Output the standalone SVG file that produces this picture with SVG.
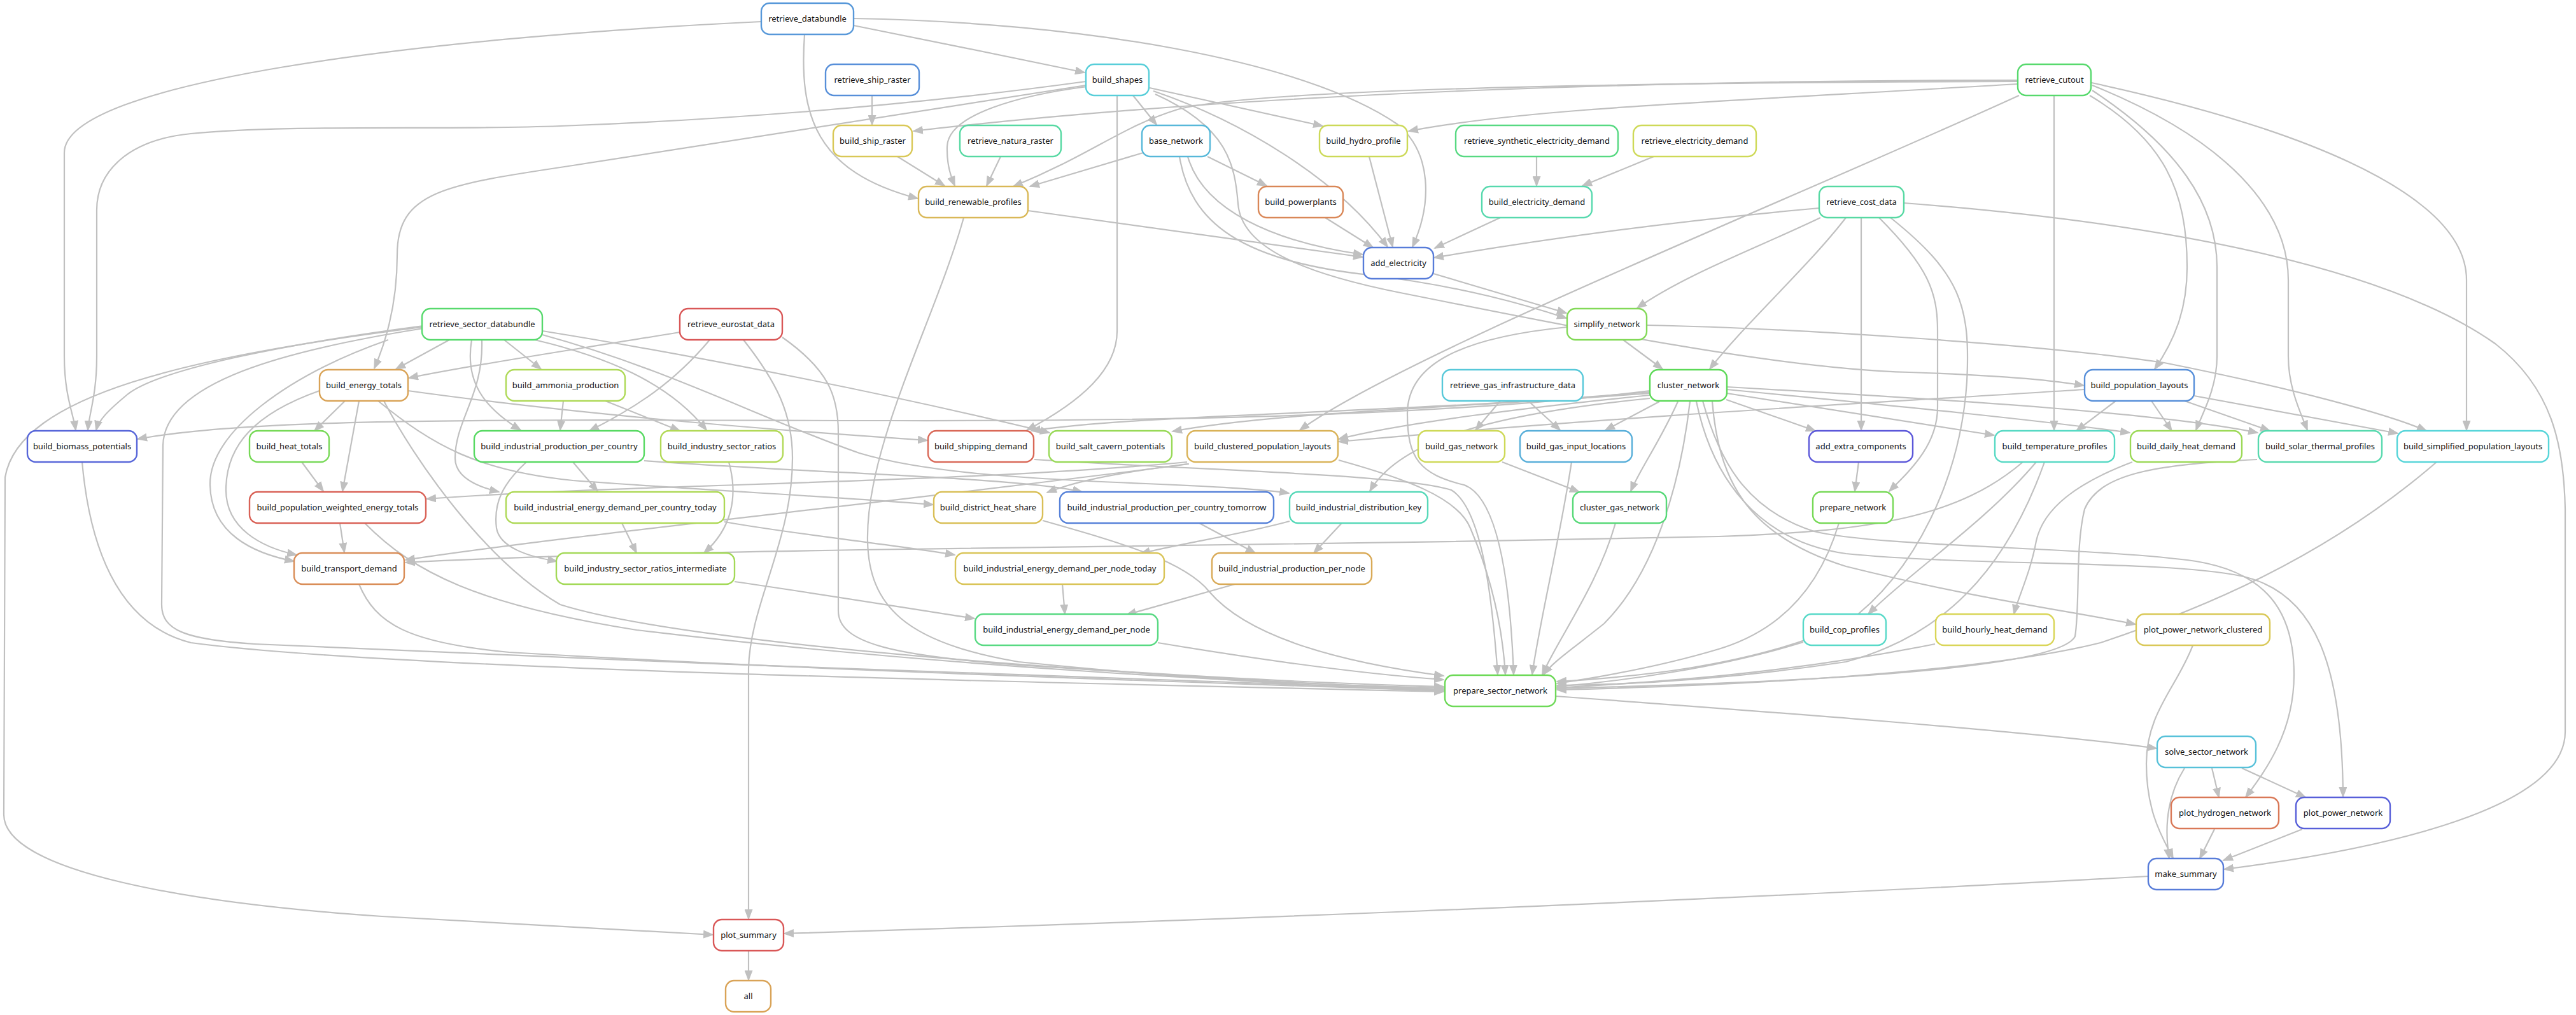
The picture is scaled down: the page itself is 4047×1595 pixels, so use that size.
<svg xmlns="http://www.w3.org/2000/svg" width="4047" height="1595" viewBox="0 0 4047 1595">
<defs>
<marker id="arr" markerUnits="userSpaceOnUse" markerWidth="17" markerHeight="13" refX="15" refY="6.5" orient="auto" viewBox="0 0 17 13"><path d="M0,0 L17,6.5 L0,13 z" fill="#c0c0c0"/></marker>
</defs>
<style>
#edges path{fill:none;stroke:#c0c0c0;stroke-width:2.2;marker-end:url(#arr)}
.node rect{fill:#fff;stroke-width:2.4}
.node text{font-family:'Noto Sans','Open Sans','DejaVu Sans',sans-serif;font-size:13px;text-anchor:middle;fill:#111}
</style>
<rect width="4047" height="1595" fill="#fff"/>
<g id="edges" class="edges">
<path d="M1341,40 C1450,62 1600,92 1704,114"/>
<path d="M1341,29 C1700,35 2050,95 2195,195 C2250,240 2250,320 2219,388"/>
<path d="M1196,34 C650,60 101,130 101,240 L101,560 C101,620 115,650 119,676"/>
<path d="M1264,54 C1255,180 1280,270 1442,312"/>
<path d="M1706,128 C1400,170 1100,190 880,198 C700,205 450,195 300,210 C200,220 152,270 152,330 L152,560 C152,620 140,650 138,676"/>
<path d="M1706,134 L900,260 C700,290 624,300 624,400 C624,480 605,540 588,579"/>
<path d="M1780,150 L1817,196"/>
<path d="M1708,136 C1600,150 1490,180 1488,230 C1487,260 1495,280 1500,292"/>
<path d="M1806,138 L2078,198"/>
<path d="M1812,143 C1950,190 2100,280 2180,388"/>
<path d="M1815,148 C1930,200 1940,260 1945,320 C1950,390 2050,430 2200,460 C2500,520 2800,580 3000,585 C3150,590 3230,598 3274,606"/>
<path d="M1755,150 L1755,520 C1755,580 1700,630 1613,676"/>
<path d="M1370,150 L1370,196"/>
<path d="M3170,126 C2700,126 2000,140 1435,206"/>
<path d="M3170,128 C2400,130 1950,145 1850,172 C1760,200 1720,240 1592,293"/>
<path d="M3170,132 C2700,160 2400,170 2213,206"/>
<path d="M1410,246 L1484,292"/>
<path d="M1572,246 L1550,292"/>
<path d="M1796,240 L1618,293"/>
<path d="M1897,246 L1990,292"/>
<path d="M1866,246 C1890,330 2000,380 2141,400"/>
<path d="M1853,246 C1870,350 1950,410 2150,432 C2300,450 2400,480 2461,500"/>
<path d="M2151,246 L2188,388"/>
<path d="M2082,342 L2157,389"/>
<path d="M2357,342 L2254,390"/>
<path d="M1615,331 L2141,404"/>
<path d="M2858,327 C2600,350 2400,380 2253,405"/>
<path d="M2414,246 L2414,292"/>
<path d="M2598,246 L2486,292"/>
<path d="M2252,430 L2461,492"/>
<path d="M2860,342 C2760,390 2650,430 2572,484"/>
<path d="M2550,534 L2612,580"/>
<path d="M2900,342 C2840,420 2740,510 2686,580"/>
<path d="M2587,511 C2800,515 3200,540 3400,570 C3600,610 3750,650 3812,677"/>
<path d="M2462,514 C2300,530 2211,570 2211,650 C2211,720 2230,745 2300,762 C2350,780 2372,900 2378,1060"/>
<path d="M2592,614 C2300,650 1900,662 1400,661 C800,660 400,655 216,690"/>
<path d="M2592,616 C2200,650 1800,650 1620,677"/>
<path d="M2592,618 C2300,640 2000,648 1842,678"/>
<path d="M2592,621 C2400,640 2200,665 2103,690"/>
<path d="M3275,612 C3000,630 2600,650 2103,694"/>
<path d="M3172,150 C2800,320 2200,560 2042,676"/>
<path d="M2592,626 C2350,650 2200,690 2152,772"/>
<path d="M2607,631 L2522,676"/>
<path d="M2636,631 C2610,690 2575,740 2562,772"/>
<path d="M2655,631 C2640,760 2600,900 2520,980 C2470,1020 2440,1040 2425,1060"/>
<path d="M2675,630 C2700,720 2740,800 2850,835 C2950,860 3300,860 3450,882 C3560,900 3604,960 3604,1060 C3604,1150 3560,1210 3528,1253"/>
<path d="M2665,631 C2690,750 2760,850 2900,870 C3100,890 3400,880 3520,905 C3640,930 3680,1050 3681,1252"/>
<path d="M2690,631 C2700,750 2740,840 2900,890 C3100,940 3250,960 3355,981"/>
<path d="M2712,628 L2852,677"/>
<path d="M2713,618 L3133,684"/>
<path d="M2713,612 C3000,640 3200,660 3346,680"/>
<path d="M2713,608 C3100,630 3400,650 3547,680"/>
<path d="M3324,630 L3262,677"/>
<path d="M3380,630 L3412,677"/>
<path d="M3432,630 L3566,677"/>
<path d="M3447,622 L3767,681"/>
<path d="M3227,150 L3227,676"/>
<path d="M3287,142 C3420,230 3483,320 3483,420 L3483,560 C3483,610 3460,650 3450,676"/>
<path d="M3287,134 C3500,220 3595,330 3595,440 L3595,560 C3595,610 3615,650 3625,676"/>
<path d="M3286,130 C3700,220 3875,330 3875,440 L3875,676"/>
<path d="M3283,150 C3400,220 3436,300 3436,420 C3436,480 3420,530 3385,580"/>
<path d="M2920,726 L2914,772"/>
<path d="M2924,342 L2924,676"/>
<path d="M2952,342 C3030,420 3044,460 3044,520 L3044,640 C3044,700 3000,740 2968,772"/>
<path d="M2970,342 C3080,430 3096,480 3090,600 C3080,750 3010,900 2900,980 C2750,1050 2550,1065 2446,1071"/>
<path d="M2889,822 C2860,920 2800,990 2700,1020 C2600,1050 2500,1066 2446,1074"/>
<path d="M3199,726 C3120,820 3000,900 2935,965"/>
<path d="M3178,726 C3080,810 2950,835 2700,843 C2200,855 1500,860 1350,864 C1000,870 800,875 637,884"/>
<path d="M3212,726 C3150,900 3050,1000 2900,1040 C2700,1070 2550,1076 2446,1077"/>
<path d="M3350,726 C3260,760 3210,800 3199,850 C3190,900 3170,940 3164,965"/>
<path d="M3546,722 C3400,730 3300,740 3275,800 C3260,860 3268,950 3260,1000 C3230,1060 2700,1075 2446,1082"/>
<path d="M3828,726 C3650,880 3450,960 3300,1010 C3100,1060 2700,1078 2446,1084"/>
<path d="M2833,1009 C2700,1050 2550,1070 2446,1079"/>
<path d="M3040,1012 C2800,1060 2600,1072 2446,1081"/>
<path d="M3445,1014 C3420,1080 3372,1120 3372,1200 C3372,1280 3400,1320 3414,1349"/>
<path d="M3432,1207 C3405,1250 3400,1300 3408,1349"/>
<path d="M3475,1207 L3486,1253"/>
<path d="M3522,1207 L3622,1253"/>
<path d="M3479,1303 L3456,1349"/>
<path d="M3617,1303 L3493,1352"/>
<path d="M2444,1094 C2800,1120 3200,1150 3388,1176"/>
<path d="M3375,1377 C2600,1420 1800,1450 1232,1467"/>
<path d="M1176,1494 L1176,1540"/>
<path d="M1168,534 C1220,600 1245,650 1245,720 C1245,850 1178,950 1176,1050 L1176,1444"/>
<path d="M663,514 C300,560 30,620 8,750 L6,1280 C6,1370 300,1420 600,1440 C850,1455 1000,1462 1120,1469"/>
<path d="M665,512 C450,540 250,580 200,620 C170,645 155,660 151,676"/>
<path d="M665,516 C450,550 258,600 256,700 L254,950 C254,990 290,1005 400,1012 C1000,1040 1800,1070 2268,1084"/>
<path d="M706,534 L622,580"/>
<path d="M792,534 L850,580"/>
<path d="M741,534 C730,600 760,640 818,676"/>
<path d="M757,534 C760,620 715,660 715,720 C715,750 750,765 784,773"/>
<path d="M840,534 C950,560 1050,600 1110,676"/>
<path d="M852,526 C1050,580 1200,660 1350,712 C1450,742 1600,752 1800,760 C1900,764 1980,768 2025,775"/>
<path d="M852,520 C1100,560 1400,620 1649,680"/>
<path d="M610,534 C450,590 330,680 330,760 C330,840 400,870 462,882"/>
<path d="M542,630 L494,677"/>
<path d="M564,630 L538,772"/>
<path d="M474,726 L508,772"/>
<path d="M534,822 L541,868"/>
<path d="M1865,726 C1500,760 1000,760 670,784"/>
<path d="M1868,729 C1400,790 900,840 637,880"/>
<path d="M1866,729 C1780,740 1700,752 1645,774"/>
<path d="M573,822 C650,900 750,950 1000,990 C1500,1050 2000,1075 2268,1081"/>
<path d="M564,918 C590,980 640,1010 800,1025 C1400,1060 2000,1075 2268,1086"/>
<path d="M603,630 C650,720 760,880 880,950 C1100,1020 1900,1070 2268,1079"/>
<path d="M641,614 C900,650 1200,675 1457,692"/>
<path d="M594,630 C680,700 750,740 900,755 C1100,770 1300,780 1466,793"/>
<path d="M502,614 C400,650 355,700 355,770 C355,830 410,860 466,872"/>
<path d="M885,630 L880,676"/>
<path d="M951,630 L1068,677"/>
<path d="M1068,522 C900,550 760,570 642,594"/>
<path d="M1115,534 C1060,600 1000,640 926,677"/>
<path d="M1229,530 C1300,580 1317,620 1317,680 L1317,960 C1317,1010 1400,1030 1600,1045 C1900,1065 2100,1078 2268,1083"/>
<path d="M900,726 L939,772"/>
<path d="M827,726 C790,760 775,790 780,830 C785,860 830,875 875,882"/>
<path d="M1012,724 C1300,745 1600,750 1700,773"/>
<path d="M1884,822 L1972,869"/>
<path d="M2108,822 L2064,869"/>
<path d="M2026,819 C1950,840 1850,855 1792,870"/>
<path d="M1138,820 C1250,840 1400,855 1500,872"/>
<path d="M977,822 L1000,869"/>
<path d="M1145,726 C1160,780 1150,830 1106,869"/>
<path d="M1154,914 C1300,935 1420,955 1531,972"/>
<path d="M1669,918 L1673,965"/>
<path d="M1940,918 L1770,966"/>
<path d="M1819,1010 C2000,1040 2150,1060 2268,1068"/>
<path d="M1638,818 C1750,850 1860,880 1900,930 C1960,1000 2100,1040 2268,1062"/>
<path d="M1625,722 C1900,740 2200,745 2280,770 C2330,800 2345,950 2353,1060"/>
<path d="M2103,723 C2200,750 2290,780 2310,830 C2340,900 2360,980 2365,1060"/>
<path d="M2538,822 C2510,920 2450,1000 2423,1060"/>
<path d="M2469,726 C2450,850 2420,970 2407,1060"/>
<path d="M2360,726 L2481,773"/>
<path d="M2357,630 L2318,676"/>
<path d="M2401,630 L2451,676"/>
<path d="M129,726 C140,850 180,980 300,1010 C600,1050 1500,1070 2268,1087"/>
<path d="M1514,342 C1470,500 1360,700 1363,850 C1365,950 1420,1010 1600,1040 C1900,1070 2100,1080 2268,1085"/>
<path d="M2991,319 C3400,350 3750,420 3920,540 C4010,610 4028,700 4030,800 L4030,1150 C4030,1280 3700,1340 3494,1366"/>
</g>
<g id="n-retrieve_databundle" class="node"><rect x="1196" y="5" width="145" height="49" rx="13" stroke="#5798D9"/><text x="1268.5" y="34">retrieve_databundle</text></g>
<g id="n-retrieve_ship_raster" class="node"><rect x="1297" y="101" width="147" height="49" rx="13" stroke="#578FD9"/><text x="1370.5" y="130">retrieve_ship_raster</text></g>
<g id="n-build_shapes" class="node"><rect x="1706" y="101" width="99" height="49" rx="13" stroke="#57CED9"/><text x="1755.5" y="130">build_shapes</text></g>
<g id="n-retrieve_cutout" class="node"><rect x="3170" y="101" width="115" height="49" rx="13" stroke="#57D96D"/><text x="3227.5" y="130">retrieve_cutout</text></g>
<g id="n-build_ship_raster" class="node"><rect x="1309" y="197" width="124" height="49" rx="13" stroke="#D9C857"/><text x="1371" y="226">build_ship_raster</text></g>
<g id="n-retrieve_natura_raster" class="node"><rect x="1508" y="197" width="159" height="49" rx="13" stroke="#57D9A3"/><text x="1587.5" y="226">retrieve_natura_raster</text></g>
<g id="n-base_network" class="node"><rect x="1794" y="197" width="107" height="49" rx="13" stroke="#57B8D9"/><text x="1847.5" y="226">base_network</text></g>
<g id="n-build_hydro_profile" class="node"><rect x="2073" y="197" width="138" height="49" rx="13" stroke="#CCD957"/><text x="2142" y="226">build_hydro_profile</text></g>
<g id="n-retrieve_synthetic_electricity_demand" class="node"><rect x="2287" y="197" width="255" height="49" rx="13" stroke="#57D982"/><text x="2414.5" y="226">retrieve_synthetic_electricity_demand</text></g>
<g id="n-retrieve_electricity_demand" class="node"><rect x="2566" y="197" width="193" height="49" rx="13" stroke="#CED957"/><text x="2662.5" y="226">retrieve_electricity_demand</text></g>
<g id="n-build_renewable_profiles" class="node"><rect x="1443" y="293" width="172" height="49" rx="13" stroke="#D9B857"/><text x="1529" y="322">build_renewable_profiles</text></g>
<g id="n-build_powerplants" class="node"><rect x="1977" y="293" width="133" height="49" rx="13" stroke="#D98757"/><text x="2043.5" y="322">build_powerplants</text></g>
<g id="n-build_electricity_demand" class="node"><rect x="2328" y="293" width="173" height="49" rx="13" stroke="#57D9AE"/><text x="2414.5" y="322">build_electricity_demand</text></g>
<g id="n-retrieve_cost_data" class="node"><rect x="2858" y="293" width="133" height="49" rx="13" stroke="#57D9A3"/><text x="2924.5" y="322">retrieve_cost_data</text></g>
<g id="n-add_electricity" class="node"><rect x="2142" y="389" width="110" height="49" rx="13" stroke="#577CD9"/><text x="2197" y="418">add_electricity</text></g>
<g id="n-retrieve_sector_databundle" class="node"><rect x="663" y="485" width="189" height="49" rx="13" stroke="#57D96D"/><text x="757.5" y="514">retrieve_sector_databundle</text></g>
<g id="n-retrieve_eurostat_data" class="node"><rect x="1068" y="485" width="161" height="49" rx="13" stroke="#D95757"/><text x="1148.5" y="514">retrieve_eurostat_data</text></g>
<g id="n-simplify_network" class="node"><rect x="2462" y="485" width="125" height="49" rx="13" stroke="#82D957"/><text x="2524.5" y="514">simplify_network</text></g>
<g id="n-build_energy_totals" class="node"><rect x="502" y="581" width="139" height="49" rx="13" stroke="#D9A357"/><text x="571.5" y="610">build_energy_totals</text></g>
<g id="n-build_ammonia_production" class="node"><rect x="795" y="581" width="187" height="49" rx="13" stroke="#AED957"/><text x="888.5" y="610">build_ammonia_production</text></g>
<g id="n-retrieve_gas_infrastructure_data" class="node"><rect x="2266" y="581" width="221" height="49" rx="13" stroke="#57C8D9"/><text x="2376.5" y="610">retrieve_gas_infrastructure_data</text></g>
<g id="n-cluster_network" class="node"><rect x="2592" y="581" width="121" height="49" rx="13" stroke="#5CD957"/><text x="2652.5" y="610">cluster_network</text></g>
<g id="n-build_population_layouts" class="node"><rect x="3275" y="581" width="172" height="49" rx="13" stroke="#578FD9"/><text x="3361" y="610">build_population_layouts</text></g>
<g id="n-build_biomass_potentials" class="node"><rect x="43" y="677" width="172" height="49" rx="13" stroke="#5766D9"/><text x="129" y="706">build_biomass_potentials</text></g>
<g id="n-build_heat_totals" class="node"><rect x="392" y="677" width="125" height="49" rx="13" stroke="#77D957"/><text x="454.5" y="706">build_heat_totals</text></g>
<g id="n-build_industrial_production_per_country" class="node"><rect x="745" y="677" width="267" height="49" rx="13" stroke="#57D962"/><text x="878.5" y="706">build_industrial_production_per_country</text></g>
<g id="n-build_industry_sector_ratios" class="node"><rect x="1038" y="677" width="192" height="49" rx="13" stroke="#B2D957"/><text x="1134" y="706">build_industry_sector_ratios</text></g>
<g id="n-build_shipping_demand" class="node"><rect x="1458" y="677" width="166" height="49" rx="13" stroke="#D96857"/><text x="1541" y="706">build_shipping_demand</text></g>
<g id="n-build_salt_cavern_potentials" class="node"><rect x="1648" y="677" width="193" height="49" rx="13" stroke="#98D957"/><text x="1744.5" y="706">build_salt_cavern_potentials</text></g>
<g id="n-build_clustered_population_layouts" class="node"><rect x="1865" y="677" width="237" height="49" rx="13" stroke="#D9B257"/><text x="1983.5" y="706">build_clustered_population_layouts</text></g>
<g id="n-build_gas_network" class="node"><rect x="2228" y="677" width="136" height="49" rx="13" stroke="#CED957"/><text x="2296" y="706">build_gas_network</text></g>
<g id="n-build_gas_input_locations" class="node"><rect x="2388" y="677" width="176" height="49" rx="13" stroke="#57AED9"/><text x="2476" y="706">build_gas_input_locations</text></g>
<g id="n-add_extra_components" class="node"><rect x="2842" y="677" width="163" height="49" rx="13" stroke="#5B57D9"/><text x="2923.5" y="706">add_extra_components</text></g>
<g id="n-build_temperature_profiles" class="node"><rect x="3134" y="677" width="188" height="49" rx="13" stroke="#57D9C4"/><text x="3228" y="706">build_temperature_profiles</text></g>
<g id="n-build_daily_heat_demand" class="node"><rect x="3347" y="677" width="175" height="49" rx="13" stroke="#9CD957"/><text x="3434.5" y="706">build_daily_heat_demand</text></g>
<g id="n-build_solar_thermal_profiles" class="node"><rect x="3548" y="677" width="194" height="49" rx="13" stroke="#57D9AE"/><text x="3645" y="706">build_solar_thermal_profiles</text></g>
<g id="n-build_simplified_population_layouts" class="node"><rect x="3766" y="677" width="238" height="49" rx="13" stroke="#57D5D9"/><text x="3885" y="706">build_simplified_population_layouts</text></g>
<g id="n-build_population_weighted_energy_totals" class="node"><rect x="392" y="773" width="277" height="49" rx="13" stroke="#D96257"/><text x="530.5" y="802">build_population_weighted_energy_totals</text></g>
<g id="n-build_industrial_energy_demand_per_country_today" class="node"><rect x="795" y="773" width="343" height="49" rx="13" stroke="#AED957"/><text x="966.5" y="802">build_industrial_energy_demand_per_country_today</text></g>
<g id="n-build_district_heat_share" class="node"><rect x="1467" y="773" width="171" height="49" rx="13" stroke="#D9BF57"/><text x="1552.5" y="802">build_district_heat_share</text></g>
<g id="n-build_industrial_production_per_country_tomorrow" class="node"><rect x="1665" y="773" width="336" height="49" rx="13" stroke="#5782D9"/><text x="1833" y="802">build_industrial_production_per_country_tomorrow</text></g>
<g id="n-build_industrial_distribution_key" class="node"><rect x="2026" y="773" width="217" height="49" rx="13" stroke="#57D9B9"/><text x="2134.5" y="802">build_industrial_distribution_key</text></g>
<g id="n-cluster_gas_network" class="node"><rect x="2471" y="773" width="147" height="49" rx="13" stroke="#57D978"/><text x="2544.5" y="802">cluster_gas_network</text></g>
<g id="n-prepare_network" class="node"><rect x="2848" y="773" width="126" height="49" rx="13" stroke="#77D957"/><text x="2911" y="802">prepare_network</text></g>
<g id="n-build_transport_demand" class="node"><rect x="462" y="869" width="173" height="49" rx="13" stroke="#D98D57"/><text x="548.5" y="898">build_transport_demand</text></g>
<g id="n-build_industry_sector_ratios_intermediate" class="node"><rect x="874" y="869" width="280" height="49" rx="13" stroke="#A3D957"/><text x="1014" y="898">build_industry_sector_ratios_intermediate</text></g>
<g id="n-build_industrial_energy_demand_per_node_today" class="node"><rect x="1501" y="869" width="328" height="49" rx="13" stroke="#D9C457"/><text x="1665" y="898">build_industrial_energy_demand_per_node_today</text></g>
<g id="n-build_industrial_production_per_node" class="node"><rect x="1904" y="869" width="251" height="49" rx="13" stroke="#D9AA57"/><text x="2029.5" y="898">build_industrial_production_per_node</text></g>
<g id="n-build_industrial_energy_demand_per_node" class="node"><rect x="1532" y="965" width="287" height="49" rx="13" stroke="#57D982"/><text x="1675.5" y="994">build_industrial_energy_demand_per_node</text></g>
<g id="n-build_cop_profiles" class="node"><rect x="2833" y="965" width="130" height="49" rx="13" stroke="#57D9C8"/><text x="2898" y="994">build_cop_profiles</text></g>
<g id="n-build_hourly_heat_demand" class="node"><rect x="3041" y="965" width="186" height="49" rx="13" stroke="#D9D557"/><text x="3134" y="994">build_hourly_heat_demand</text></g>
<g id="n-plot_power_network_clustered" class="node"><rect x="3356" y="965" width="210" height="49" rx="13" stroke="#D9C857"/><text x="3461" y="994">plot_power_network_clustered</text></g>
<g id="n-prepare_sector_network" class="node"><rect x="2270" y="1061" width="174" height="49" rx="13" stroke="#6DD957"/><text x="2357" y="1090">prepare_sector_network</text></g>
<g id="n-solve_sector_network" class="node"><rect x="3389" y="1157" width="155" height="49" rx="13" stroke="#57C1D9"/><text x="3466.5" y="1186">solve_sector_network</text></g>
<g id="n-plot_hydrogen_network" class="node"><rect x="3411" y="1253" width="169" height="49" rx="13" stroke="#D97857"/><text x="3495.5" y="1282">plot_hydrogen_network</text></g>
<g id="n-plot_power_network" class="node"><rect x="3607" y="1253" width="148" height="49" rx="13" stroke="#575FD9"/><text x="3681" y="1282">plot_power_network</text></g>
<g id="n-make_summary" class="node"><rect x="3375" y="1349" width="118" height="49" rx="13" stroke="#577CD9"/><text x="3434" y="1378">make_summary</text></g>
<g id="n-plot_summary" class="node"><rect x="1121" y="1445" width="110" height="49" rx="13" stroke="#D95757"/><text x="1176" y="1474">plot_summary</text></g>
<g id="n-all" class="node"><rect x="1140" y="1541" width="71" height="49" rx="13" stroke="#D9A357"/><text x="1175.5" y="1570">all</text></g>
</svg>
